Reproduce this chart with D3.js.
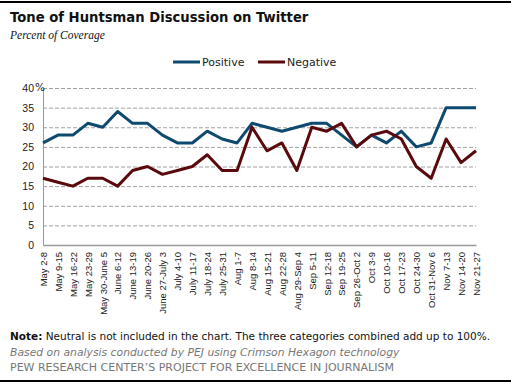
<!DOCTYPE html>
<html><head><meta charset="utf-8">
<script src="https://cdn.jsdelivr.net/npm/d3@7"></script>
<style>
body{margin:0;background:#fff;}
svg{display:block;font-family:"DejaVu Sans",Verdana,sans-serif;}
</style></head>
<body>
<svg id="c" width="511" height="383"></svg>
<script>
const categories = ["May 2-8","May 9-15","May 16-22","May 23-29","May 30-June 5","June 6-12","June 13-19","June 20-26","June 27-July 3","July 4-10","July 11-17","July 18-24","July 25-31","Aug 1-7","Aug 8-14","Aug 15-21","Aug 22-28","Aug 29-Sep 4","Sep 5-11","Sep 12-18","Sep 19-25","Sep 26-Oct 2","Oct 3-9","Oct 10-16","Oct 17-23","Oct 24-30","Oct 31-Nov 6","Nov 7-13","Nov 14-20","Nov 21-27"];
const positive = [26,28,28,31,30,34,31,31,28,26,26,29,27,26,31,30,29,30,31,31,28,25,28,26,29,25,26,35,35,35];
const negative = [17,16,15,17,17,15,19,20,18,19,20,23,19,19,30,24,26,19,30,29,31,25,28,29,27,20,17,27,21,24];
const yTicks = [0,5,10,15,20,25,30,35,40];
const seriesNames = ["Positive","Negative"];
const colors = ["#0e4a6f","#5a0a0c"];

const svg = d3.select("#c");
const pLeft = 43, pRight = 476, pTop = 88, pBottom = 245;

// borders
svg.append("rect").attr("x",0).attr("y",1).attr("width",511).attr("height",2).attr("fill","#000");
svg.append("rect").attr("x",0).attr("y",380).attr("width",511).attr("height",2).attr("fill","#000");

svg.append("text").attr("x",10).attr("y",22).attr("font-size",13.2).attr("font-weight","bold").attr("fill","#111")
  .text("Tone of Huntsman Discussion on Twitter");
svg.append("text").attr("x",10).attr("y",39).attr("font-size",11.5).attr("font-style","italic")
  .attr("font-family","'Liberation Serif','DejaVu Serif',serif").attr("fill","#111").text("Percent of Coverage");

const x = d3.scalePoint().domain(categories).range([pLeft,pRight]);
const y = d3.scaleLinear().domain([0,40]).range([pBottom,pTop]);

// grid
svg.append("g").selectAll("line").data(yTicks.filter(d=>d>0)).join("line")
  .attr("x1",pLeft).attr("x2",pRight).attr("y1",d=>y(d)+0.5).attr("y2",d=>y(d)+0.5)
  .attr("stroke","#a0a0a0").attr("stroke-dasharray","4,2").attr("stroke-width",1);

// y axis
const ya = svg.append("g").attr("transform",`translate(${pLeft},0)`)
  .call(d3.axisLeft(y).tickValues(yTicks).tickSize(0).tickPadding(9).tickFormat(d=>d));
ya.select(".domain").attr("stroke","#999");
ya.selectAll("text").attr("font-size",10.5).attr("fill","#222");
svg.append("text").attr("x",pLeft-8).attr("y",y(40)).attr("dy","0.32em").attr("font-size",10.5).attr("fill","#222").text("%");

// x axis
const xa = svg.append("g").attr("transform",`translate(0,${pBottom})`)
  .call(d3.axisBottom(x).tickSize(0).tickPadding(0));
xa.select(".domain").attr("stroke","#999").attr("stroke-width",1.5);
xa.selectAll("text").attr("font-size",9.5).attr("fill","#222")
  .attr("transform","rotate(-90)").attr("text-anchor","end").attr("x",-7).attr("y",0).attr("dy","0.35em");

const line = d3.line().x((d,i)=>x(categories[i])).y(d=>y(d));
[positive,negative].forEach((s,k)=>{
  svg.append("path").datum(s).attr("d",line).attr("fill","none")
    .attr("stroke",colors[k]).attr("stroke-width",3).attr("stroke-linejoin","round");
});

// legend
const lg = [[173,202],[258,287]];
seriesNames.forEach((n,k)=>{
  svg.append("line").attr("x1",lg[k][0]).attr("x2",lg[k][1]-2).attr("y1",62).attr("y2",62)
    .attr("stroke",colors[k]).attr("stroke-width",3);
  svg.append("text").attr("x",lg[k][1]).attr("y",66).attr("font-size",11).attr("fill","#222").text(n);
});

// footer
const note = svg.append("text").attr("x",10).attr("y",340).attr("font-size",10.5).attr("fill","#111");
note.append("tspan").attr("font-weight","bold").text("Note:");
note.append("tspan").text(" Neutral is not included in the chart. The three categories combined add up to 100%.");
svg.append("text").attr("x",10).attr("y",356).attr("font-size",10.8).attr("font-style","italic").attr("fill","#777")
  .text("Based on analysis conducted by PEJ using Crimson Hexagon technology");
svg.append("text").attr("x",10).attr("y",371).attr("font-size",11).attr("fill","#777")
  .text("PEW RESEARCH CENTER’S PROJECT FOR EXCELLENCE IN JOURNALISM");
</script>
</body></html>
